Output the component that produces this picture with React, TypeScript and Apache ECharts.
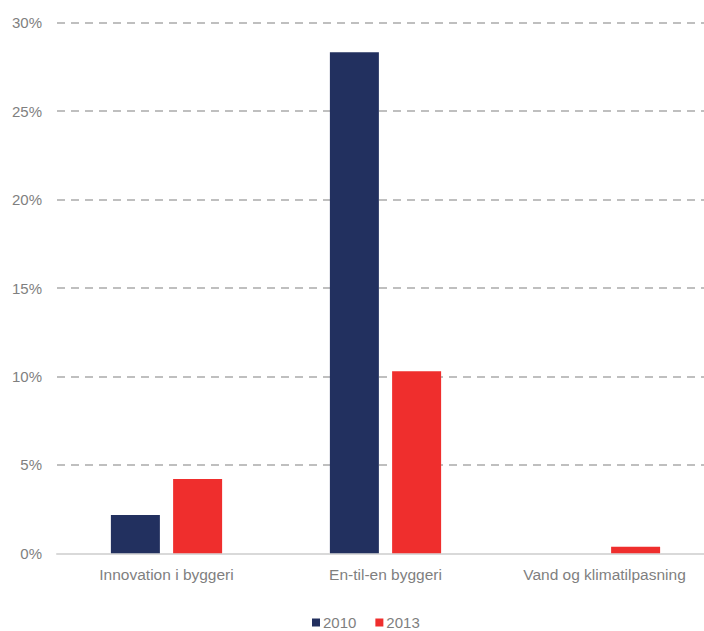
import React, { useEffect, useRef } from "react";
import * as echarts from "echarts";

const categories = ["Innovation i byggeri", "En-til-en byggeri", "Vand og klimatilpasning"];
const series2010 = [2.17, 28.33, 0];
const series2013 = [4.2, 10.3, 0.37];
const seriesNames = ["2010", "2013"];

export default function App() {
  const ref = useRef<HTMLDivElement>(null);
  useEffect(() => {
    if (!ref.current) return;
    const chart = echarts.init(ref.current, null, { renderer: "svg" });
    const font = "'Liberation Sans', Arial, sans-serif";
    chart.setOption({
      animation: false,
      textStyle: { fontFamily: font },
      grid: { left: 57, right: 0, top: 22.7, bottom: 77.7, containLabel: false },
      legend: {
        data: seriesNames,
        left: 312,
        top: 615,
        padding: 0,
        itemWidth: 8,
        itemHeight: 8,
        itemGap: 19,
        icon: "rect",
        selectedMode: false,
        textStyle: { color: "#7F7F7F", fontSize: 15, fontFamily: font, padding: [0, 0, 0, -2] },
      },
      xAxis: {
        type: "category",
        data: categories,
        axisLine: { show: true, lineStyle: { color: "#D9D9D9", width: 2 } },
        axisTick: { show: false },
        axisLabel: { color: "#7F7F7F", fontSize: 15.5, fontFamily: font, margin: 13 },
      },
      yAxis: {
        type: "value",
        min: 0,
        max: 30,
        interval: 5,
        axisLine: { show: false },
        axisTick: { show: false },
        axisLabel: { color: "#7F7F7F", fontSize: 15, fontFamily: font, margin: 15, formatter: "{value}%" },
        splitLine: { lineStyle: { color: "#ABABAB", width: 1.5, type: [8, 6] } },
      },
      series: [
        {
          name: seriesNames[0],
          type: "bar",
          data: series2010,
          barWidth: 49,
          barGap: "27%",
          itemStyle: { color: "#22305F" },
        },
        {
          name: seriesNames[1],
          type: "bar",
          data: series2013,
          barWidth: 49,
          barGap: "27%",
          itemStyle: { color: "#EF2E2D" },
        },
      ],
    });
    return () => chart.dispose();
  }, []);
  return (
    <div
      style={{ position: "absolute", left: 0, top: 0, width: 704, height: 631, overflow: "hidden", background: "#fff" }}
    >
      <div ref={ref} style={{ width: 714, height: 631 }} />
    </div>
  );
}
